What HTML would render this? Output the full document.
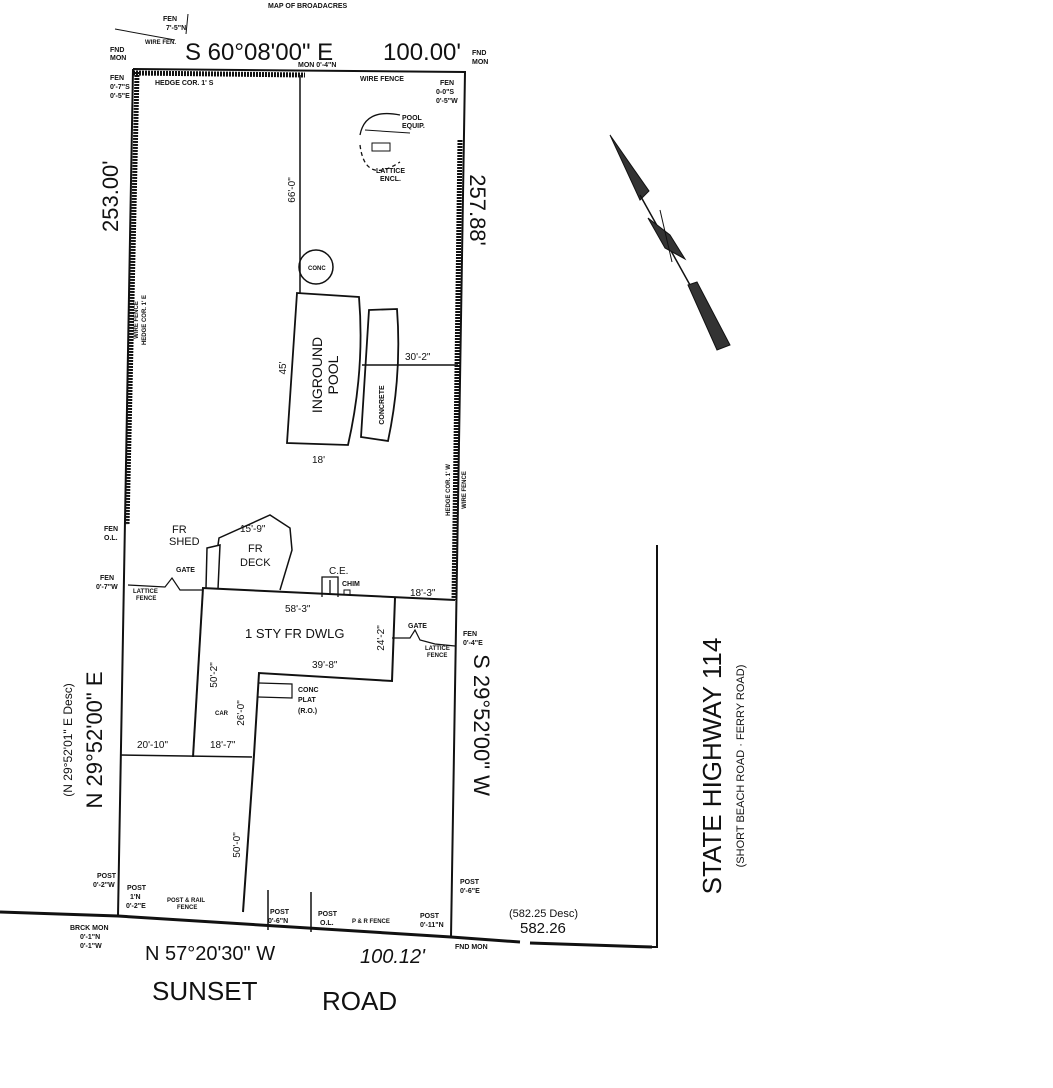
<!DOCTYPE html>
<html><head><meta charset="utf-8"><style>
html,body{margin:0;padding:0;background:#fff;}
svg{display:block}
text{font-family:"Liberation Sans",sans-serif;fill:#111}
.s{font-size:7px;font-weight:bold}
.m{font-size:10px}
</style></head><body>
<svg width="1053" height="1088" viewBox="0 0 1053 1088" xmlns="http://www.w3.org/2000/svg">
<g stroke="#111" fill="none" stroke-width="2">
<polyline points="133,69 465,72 451,937 118,916 133,69"/>
<line x1="133" y1="73" x2="305" y2="75" stroke-width="5" stroke-dasharray="2 1"/>
<line x1="137" y1="72" x2="127" y2="525" stroke-width="5" stroke-dasharray="2 1"/>
<line x1="460" y1="140" x2="454" y2="600" stroke-width="5" stroke-dasharray="2 1"/>
<polyline points="0,912 118,916 451,937 520,942" stroke-width="3"/>
<line x1="530" y1="943" x2="652" y2="947" stroke-width="3"/>
<polyline points="652,947 657,947 657,545" stroke-width="2"/>
<line x1="300" y1="75" x2="300" y2="293" stroke-width="1.5"/>
<circle cx="316" cy="267" r="17" stroke-width="1.5"/>
<path d="M297,293 L359,297 Q365,370 348,445 L287,443 Z" stroke-width="1.8"/>
<path d="M369,310 L397,309 Q402,375 388,441 L361,437 Z" stroke-width="1.8"/>
<line x1="362" y1="365" x2="458" y2="365" stroke-width="1.5"/>
<path d="M360,135 Q365,108 400,115" stroke-width="1.3"/>
<path d="M360,145 Q365,185 400,162" stroke-width="1.3" stroke-dasharray="4 3"/>
<line x1="365" y1="130" x2="410" y2="133" stroke-width="1"/>
<rect x="372" y="143" width="18" height="8" stroke-width="1"/>
<line x1="202" y1="588" x2="455" y2="600" stroke-width="2"/>
<polyline points="395,598 392,681 259,673 254,755 243,912" stroke-width="2"/>
<line x1="203" y1="588" x2="193" y2="757"/>
<line x1="120" y1="755" x2="252" y2="757" stroke-width="1.5"/>
<polyline points="259,683 292,684 292,698 258,697" stroke-width="1.2"/>
<polyline points="206,588 207,548 220,545 218,589" stroke-width="1.5"/>
<polyline points="218,545 219,538 270,515 290,528 292,550 280,590" stroke-width="1.5"/>
<polyline points="322,597 322,577 338,577 338,597" stroke-width="1.3"/>
<line x1="330" y1="580" x2="330" y2="595" stroke-width="1.3"/>
<rect x="344" y="590" width="6" height="5" stroke-width="1"/>
<polyline points="128,585 165,587 172,578 180,590 202,590" stroke-width="1.2"/>
<polyline points="392,638 410,638 415,630 420,640 435,644 455,646" stroke-width="1.2"/>
<line x1="268" y1="890" x2="268" y2="930" stroke-width="1.5"/>
<line x1="311" y1="892" x2="311" y2="932" stroke-width="1.5"/>
<line x1="115" y1="29" x2="175" y2="40" stroke-width="1"/>
<line x1="188" y1="14" x2="186" y2="34" stroke-width="1"/>
</g>
<g fill="#333" stroke="#111" stroke-width="1">
<polygon points="610,135 649,191 640,200"/>
<line x1="640" y1="195" x2="690" y2="285" stroke-width="1.5"/>
<polygon points="648,218 670,235 685,259 665,248"/>
<line x1="660" y1="210" x2="672" y2="262" stroke-width="1"/>
<polygon points="688,285 697,282 730,345 717,350"/>
</g>
<text x="268" y="8" class="s">MAP OF BROADACRES</text>
<text x="185" y="60" font-size="24">S 60°08'00" E</text>
<text x="383" y="60" font-size="24">100.00'</text>
<text x="110" y="52" class="s">FND</text><text x="110" y="60" class="s">MON</text>
<text x="472" y="55" class="s">FND</text><text x="472" y="64" class="s">MON</text>
<text x="298" y="67" class="s">MON 0'-4"N</text>
<text x="163" y="21" class="s">FEN</text>
<text x="166" y="30" class="s">7'-5"N</text>
<text x="145" y="44" font-size="6" font-weight="bold">WIRE FEN.</text>
<text x="110" y="80" class="s">FEN</text><text x="110" y="89" class="s">0'-7"S</text><text x="110" y="98" class="s">0'-5"E</text>
<text x="155" y="85" class="s">HEDGE COR. 1' S</text>
<text x="360" y="81" class="s">WIRE FENCE</text>
<text x="440" y="85" class="s">FEN</text><text x="436" y="94" class="s">0-0"S</text><text x="436" y="103" class="s">0'-5"W</text>
<text x="402" y="120" class="s">POOL</text><text x="402" y="128" class="s">EQUIP.</text>
<text x="376" y="173" class="s">LATTICE</text><text x="380" y="181" class="s">ENCL.</text>
<text transform="translate(118,232) rotate(-90)" font-size="22">253.00'</text>
<text transform="translate(470,210) rotate(90)" font-size="22" text-anchor="middle">257.88'</text>
<text transform="translate(295,190) rotate(-90)" class="m" text-anchor="middle">66'-0"</text>
<text x="308" y="270" font-size="6" font-weight="bold">CONC</text>
<text transform="translate(322,375) rotate(-90)" font-size="14" text-anchor="middle">INGROUND</text>
<text transform="translate(338,375) rotate(-90)" font-size="14" text-anchor="middle">POOL</text>
<text transform="translate(384,405) rotate(-90)" class="s" text-anchor="middle">CONCRETE</text>
<text transform="translate(286,368) rotate(-90)" class="m" text-anchor="middle">45'</text>
<text x="312" y="463" class="m">18'</text>
<text x="405" y="360" class="m">30'-2"</text>
<text transform="translate(138,320) rotate(-90)" font-size="6" font-weight="bold" text-anchor="middle">WIRE FENCE</text>
<text transform="translate(146,320) rotate(-90)" font-size="6" font-weight="bold" text-anchor="middle">HEDGE COR. 1' E</text>
<text transform="translate(450,490) rotate(-90)" font-size="6" font-weight="bold" text-anchor="middle">HEDGE COR. 1' W</text>
<text transform="translate(466,490) rotate(-90)" font-size="6" font-weight="bold" text-anchor="middle">WIRE FENCE</text>
<text x="104" y="531" class="s">FEN</text><text x="104" y="540" class="s">O.L.</text>
<text x="172" y="533" font-size="11">FR</text><text x="169" y="545" font-size="11">SHED</text>
<text x="240" y="532" class="m">15'-9"</text>
<text x="248" y="552" font-size="11">FR</text><text x="240" y="566" font-size="11">DECK</text>
<text x="329" y="574" class="m">C.E.</text><text x="342" y="586" class="s">CHIM</text>
<text x="410" y="596" class="m">18'-3"</text>
<text x="100" y="580" class="s">FEN</text><text x="96" y="589" class="s">0'-7"W</text>
<text x="133" y="593" font-size="6" font-weight="bold">LATTICE</text><text x="136" y="600" font-size="6" font-weight="bold">FENCE</text>
<text x="176" y="572" class="s">GATE</text>
<text x="285" y="612" class="m">58'-3"</text>
<text x="245" y="638" font-size="13">1 STY FR DWLG</text>
<text x="312" y="668" class="m">39'-8"</text>
<text transform="translate(384,638) rotate(-90)" class="m" text-anchor="middle">24'-2"</text>
<text x="408" y="628" class="s">GATE</text>
<text x="425" y="650" font-size="6" font-weight="bold">LATTICE</text><text x="427" y="657" font-size="6" font-weight="bold">FENCE</text>
<text x="463" y="636" class="s">FEN</text><text x="463" y="645" class="s">0'-4"E</text>
<text transform="translate(217,675) rotate(-90)" class="m" text-anchor="middle">50'-2"</text>
<text x="298" y="692" class="s">CONC</text><text x="298" y="702" class="s">PLAT</text><text x="298" y="713" class="s">(R.O.)</text>
<text x="215" y="715" font-size="6" font-weight="bold">CAR</text>
<text transform="translate(244,713) rotate(-90)" class="m" text-anchor="middle">26'-0"</text>
<text x="137" y="748" class="m">20'-10"</text>
<text x="210" y="748" class="m">18'-7"</text>
<text transform="translate(240,845) rotate(-90)" class="m" text-anchor="middle">50'-0"</text>
<text transform="translate(72,740) rotate(-90)" font-size="12" text-anchor="middle">(N 29°52'01" E Desc)</text>
<text transform="translate(102,740) rotate(-90)" font-size="22" text-anchor="middle">N 29°52'00" E</text>
<text transform="translate(474,725) rotate(90)" font-size="22" text-anchor="middle">S 29°52'00" W</text>
<text x="97" y="878" class="s">POST</text><text x="93" y="887" class="s">0'-2"W</text>
<text x="127" y="890" class="s">POST</text><text x="130" y="899" class="s">1'N</text><text x="126" y="908" class="s">0'-2"E</text>
<text x="167" y="902" font-size="6" font-weight="bold">POST &amp; RAIL</text><text x="177" y="909" font-size="6" font-weight="bold">FENCE</text>
<text x="270" y="914" class="s">POST</text><text x="268" y="923" class="s">0'-6"N</text>
<text x="318" y="916" class="s">POST</text><text x="320" y="925" class="s">O.L.</text>
<text x="352" y="923" font-size="6" font-weight="bold">P &amp; R FENCE</text>
<text x="420" y="918" class="s">POST</text><text x="420" y="927" class="s">0'-11"N</text>
<text x="460" y="884" class="s">POST</text><text x="460" y="893" class="s">0'-6"E</text>
<text x="70" y="930" class="s">BRCK MON</text><text x="80" y="939" class="s">0'-1"N</text><text x="80" y="948" class="s">0'-1"W</text>
<text x="455" y="949" class="s">FND MON</text>
<text x="509" y="917" font-size="11">(582.25 Desc)</text>
<text x="520" y="933" font-size="15">582.26</text>
<text x="145" y="960" font-size="20">N 57°20'30" W</text>
<text x="360" y="963" font-size="20" font-style="italic">100.12'</text>
<text x="152" y="1000" font-size="26">SUNSET</text>
<text x="322" y="1010" font-size="26">ROAD</text>
<text transform="translate(721,766) rotate(-90)" font-size="26" text-anchor="middle">STATE HIGHWAY 114</text>
<text transform="translate(744,766) rotate(-90)" font-size="11" text-anchor="middle">(SHORT BEACH ROAD · FERRY ROAD)</text>
</svg>
</body></html>
